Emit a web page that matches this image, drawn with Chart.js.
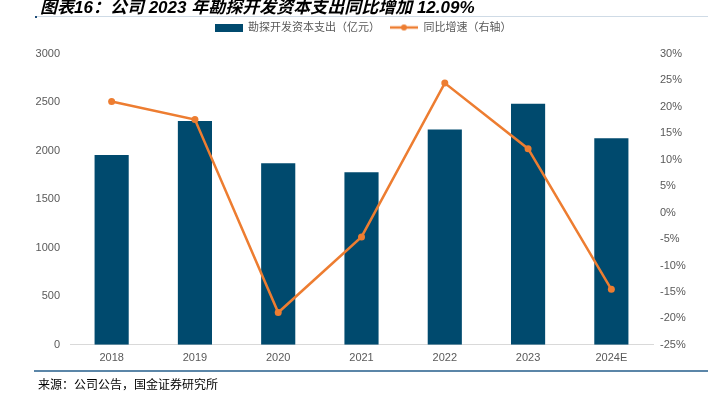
<!DOCTYPE html>
<html>
<head>
<meta charset="utf-8">
<script src="https://cdn.jsdelivr.net/npm/chart.js@4.4.1/dist/chart.umd.min.js"></script>
<style>
  html, body { margin: 0; padding: 0; background: #fff; }
  #wrap { position: relative; width: 708px; height: 394px; overflow: hidden; font-family: "Liberation Sans", "Noto Sans CJK SC", sans-serif; }
  #chart { position: absolute; left: 0; top: 0; }
  #title { position: absolute; left: 40px; top: -7px; font-size: 17px; font-weight: bold; font-style: italic; color: #000; white-space: nowrap; font-family: "Liberation Sans", "Noto Sans CJK SC", sans-serif; }
  #titleRule { position: absolute; left: 35px; right: 0; top: 16px; height: 1px; background: #cfdbe6; }
  #titleMark { position: absolute; left: 35px; top: 16px; width: 2px; height: 2px; background: #1f4e79; }
  #bottomRule { position: absolute; left: 34px; right: 0; top: 370px; height: 2px; background: #5b86a8; }
  #source { position: absolute; left: 38px; top: 375px; font-size: 12px; color: #000; white-space: nowrap; font-family: "Noto Sans CJK SC", sans-serif; }
</style>
</head>
<body>
<div id="wrap">
  <canvas id="chart" width="708" height="394"></canvas>
  <div id="title">图表16：公司 2023 年勘探开发资本支出同比增加 12.09%</div>
  <div id="titleRule"></div>
  <div id="titleMark"></div>
  <div id="bottomRule"></div>
  <div id="source">来源：公司公告，国金证券研究所</div>
</div>
<script>
const categories = ["2018", "2019", "2020", "2021", "2022", "2023", "2024E"];
const capexValues = [1959, 2309, 1873, 1780, 2220, 2488, 2131];
const growthValues = [21.0, 17.6, -18.9, -4.6, 24.5, 12.09, -14.5];
const leftTicks = [0, 500, 1000, 1500, 2000, 2500, 3000];
const rightTicks = [-25, -20, -15, -10, -5, 0, 5, 10, 15, 20, 25, 30];
const seriesNames = ["勘探开发资本支出（亿元）", "同比增速（右轴）"];

const BAR_COLOR = "#004a6e";
const LINE_COLOR = "#ed7d31";
const TEXT_COLOR = "#595959";

function makeSwatch(kind) {
  const c = document.createElement("canvas");
  c.width = 28; c.height = 8;
  const g = c.getContext("2d");
  if (kind === "bar") {
    g.fillStyle = BAR_COLOR;
    g.fillRect(0, 0, 28, 8);
  } else {
    g.strokeStyle = LINE_COLOR;
    g.lineWidth = 2.5;
    g.beginPath(); g.moveTo(0, 4); g.lineTo(28, 4); g.stroke();
    g.fillStyle = LINE_COLOR;
    g.beginPath(); g.arc(14, 4, 3, 0, Math.PI * 2); g.fill();
  }
  return c;
}
const barSwatch = makeSwatch("bar");
const lineSwatch = makeSwatch("line");

const font = { family: "'Liberation Sans', 'Noto Sans CJK SC', sans-serif", size: 11 };

const legendGap = {
  id: "legendGap",
  beforeInit(chart) {
    const origFit = chart.legend.fit;
    chart.legend.fit = function () {
      origFit.call(this);
      this.height += 11;
    };
  }
};

new Chart(document.getElementById("chart"), {
  data: {
    labels: categories,
    datasets: [
      {
        type: "bar",
        label: seriesNames[0],
        data: capexValues,
        backgroundColor: BAR_COLOR,
        borderWidth: 0,
        yAxisID: "y",
        order: 2,
        categoryPercentage: 1,
        barPercentage: 0.41
      },
      {
        type: "line",
        label: seriesNames[1],
        data: growthValues,
        borderColor: LINE_COLOR,
        backgroundColor: LINE_COLOR,
        borderWidth: 2.5,
        pointRadius: 3.5,
        pointHoverRadius: 3.5,
        pointBackgroundColor: LINE_COLOR,
        pointBorderWidth: 0,
        tension: 0,
        yAxisID: "y1",
        order: 1
      }
    ]
  },
  plugins: [legendGap],
  options: {
    responsive: false,
    animation: false,
    devicePixelRatio: 1,
    layout: { padding: { top: 12, bottom: 22, left: 30, right: 12 } },
    plugins: {
      tooltip: { enabled: false },
      title: { display: false },
      legend: {
        display: true,
        position: "top",
        align: "center",
        labels: {
          usePointStyle: true,
          pointStyleWidth: 28,
          color: TEXT_COLOR,
          font: font,
          padding: 10,
          generateLabels: function () {
            return [
              { text: seriesNames[0], pointStyle: barSwatch, fontColor: TEXT_COLOR, hidden: false, datasetIndex: 0, lineWidth: 0 },
              { text: seriesNames[1], pointStyle: lineSwatch, fontColor: TEXT_COLOR, hidden: false, datasetIndex: 1, lineWidth: 0 }
            ];
          }
        }
      }
    },
    scales: {
      x: {
        type: "category",
        grid: { display: false, drawTicks: false },
        border: { display: true, color: "#d9d9d9", width: 1 },
        ticks: { color: TEXT_COLOR, font: font, padding: 7, maxRotation: 0 }
      },
      y: {
        type: "linear",
        position: "left",
        min: 0, max: 3000,
        afterBuildTicks: function (s) { s.ticks = leftTicks.map(v => ({ value: v })); },
        afterFit: function (s) { s.width = 40; },
        grid: { display: false, drawTicks: false },
        border: { display: false },
        ticks: { color: TEXT_COLOR, font: font, padding: 10, callback: v => String(v) }
      },
      y1: {
        type: "linear",
        position: "right",
        min: -25, max: 30,
        afterBuildTicks: function (s) { s.ticks = rightTicks.map(v => ({ value: v })); },
        afterFit: function (s) { s.width = 43; },
        grid: { display: false, drawTicks: false },
        border: { display: false },
        ticks: { color: TEXT_COLOR, font: font, padding: 7, callback: v => v + "%" }
      }
    }
  }
});
</script>
</body>
</html>
